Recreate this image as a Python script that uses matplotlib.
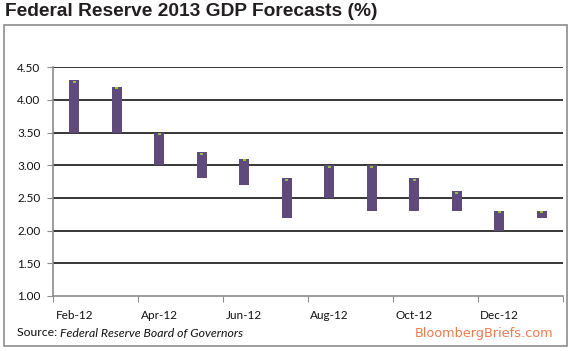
import matplotlib.pyplot as plt
from matplotlib.patches import Rectangle
import numpy as np

# central tendency ranges
months = ['Feb-12', 'Mar-12', 'Apr-12', 'May-12', 'Jun-12', 'Jul-12',
          'Aug-12', 'Sep-12', 'Oct-12', 'Nov-12', 'Dec-12', 'Jan-13']
low = [3.5, 3.5, 3.0, 2.8, 2.7, 2.2, 2.5, 2.3, 2.3, 2.3, 2.0, 2.2]
high = [4.3, 4.2, 3.5, 3.2, 3.1, 2.8, 3.0, 3.0, 2.8, 2.6, 2.3, 2.3]
label_months = months[::2]
yticks = [1.0, 1.5, 2.0, 2.5, 3.0, 3.5, 4.0, 4.5]

purple = '#5e4b7c'
green = '#93c047'
gray = '#8c8c8c'

fig = plt.figure(figsize=(5.72, 3.51), dpi=100)
ax = fig.add_axes([53/572, 1-296/351, (563-53)/572, (296-67.3)/351])

x = np.arange(len(months)) + 0.5
low = np.array(low)
high = np.array(high)
ax.bar(x, high - low, bottom=low, width=0.235, color=purple, zorder=3)
# small green marker at the top of each bar
ax.bar(x, 0.03, bottom=high - 0.035, width=0.075, color=green, zorder=4)

ax.set_xlim(0, 12)
ax.set_ylim(1.0, 4.5)
ax.set_yticks(yticks)
ax.set_yticklabels(['%.2f' % v for v in yticks])
for v in yticks[1:]:
    ax.axhline(v, color='black', lw=1.1, zorder=2)

ax.set_xticks(np.arange(0, 13, 2))
ax.set_xticklabels([])
ax.set_xticks(x[::2], minor=True)
ax.set_xticklabels(label_months, minor=True)
ax.tick_params(axis='x', which='minor', length=0, pad=10)
ax.tick_params(axis='x', which='major', length=4, color=gray, direction='out')
ax.tick_params(axis='y', length=4, color=gray, direction='out', pad=5)
for lab in ax.get_xticklabels(minor=True) + ax.get_yticklabels():
    lab.set_fontfamily('Lato')
    lab.set_fontsize(8.5)
    lab.set_color('#111111')

for s in ['top', 'right']:
    ax.spines[s].set_visible(False)
for s in ['left', 'bottom']:
    ax.spines[s].set_color(gray)
    ax.spines[s].set_linewidth(1.2)

# outer frame
fig.patches.append(Rectangle((3.5/572, 1-346/351), (567-3.5)/572, (346-25)/351,
                             transform=fig.transFigure, fill=False,
                             edgecolor=gray, lw=1.2))

fig.text(5/572, 1-12/351, 'Federal Reserve 2013 GDP Forecasts (%)',
         fontsize=13.8, fontweight='bold', family='Liberation Sans',
         color='#231f20', va='center', ha='left')

t = fig.text(17/572, 1-333/351, 'Source: ', fontsize=8.8, family='Lato',
             color='#111111', va='center', ha='left')
fig.canvas.draw()
bb = t.get_window_extent()
fig.text(bb.x1/572, 1-333/351, 'Federal Reserve Board of Governors',
         fontsize=8.8, family='Lato', style='italic', color='#111111',
         va='center', ha='left')

fig.text(553/572, 1-334/351, 'BloombergBriefs.com', fontsize=9.3,
         family='DejaVu Sans', color='#ee7a4f', va='center', ha='right')

fig.savefig('out.png', dpi=100)
